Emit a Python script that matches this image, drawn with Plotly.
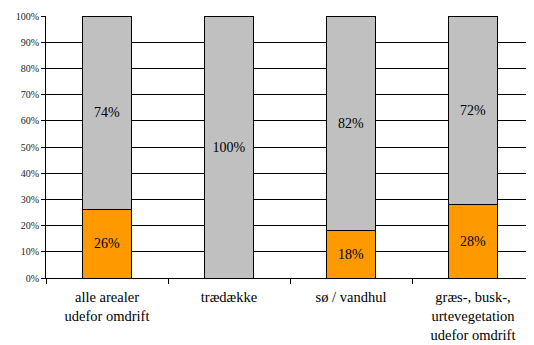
import plotly.graph_objects as go

# categories and shares
categories = ["alle arealer<br>udefor omdrift", "trædække", "sø / vandhul",
              "græs-, busk-,<br>urtevegetation<br>udefor omdrift"]
orange_vals = [0.26, 0.0, 0.18, 0.28]
gray_vals = [0.74, 1.0, 0.82, 0.72]

def labels(vals):
    return ["%d%%" % round(v * 100) if v > 0 else "" for v in vals]

font = "Liberation Serif"

fig = go.Figure()
fig.add_trace(go.Bar(x=categories, y=orange_vals, text=labels(orange_vals),
                     marker=dict(color="#FF9900", line=dict(color="#000000", width=1)),
                     textposition="inside", insidetextanchor="middle",
                     textfont=dict(family=font, size=14, color="#000000")))
fig.add_trace(go.Bar(x=categories, y=gray_vals, text=labels(gray_vals),
                     marker=dict(color="#C0C0C0", line=dict(color="#000000", width=1)),
                     textposition="inside", insidetextanchor="middle",
                     textfont=dict(family=font, size=14, color="#000000")))

# page body has an 8px margin, so the figure is a bit smaller than the window
fig.update_layout(
    barmode="stack", bargap=0.6, showlegend=False,
    width=526, height=337,
    margin=dict(l=38, r=0, t=8, b=67),
    plot_bgcolor="white", paper_bgcolor="white",
    font=dict(family=font, color="#000000"),
)
fig.update_xaxes(showline=True, linecolor="#000000", linewidth=1, automargin=False,
                 ticks="outside", tickson="boundaries", ticklen=5, tickcolor="#000000",
                 ticklabelstandoff=6,
                 tickfont=dict(family=font, size=14.5, color="#000000"),
                 showgrid=False)
fig.update_yaxes(range=[0, 1], dtick=0.1, tickformat=".0%", automargin=False,
                 showline=True, linecolor="#000000", linewidth=1,
                 ticks="outside", ticklen=4, tickcolor="#000000",
                 tickfont=dict(family=font, size=10, color="#222222"),
                 showgrid=True, gridcolor="#000000", gridwidth=1,
                 zeroline=False)

fig.write_html("out.html")
